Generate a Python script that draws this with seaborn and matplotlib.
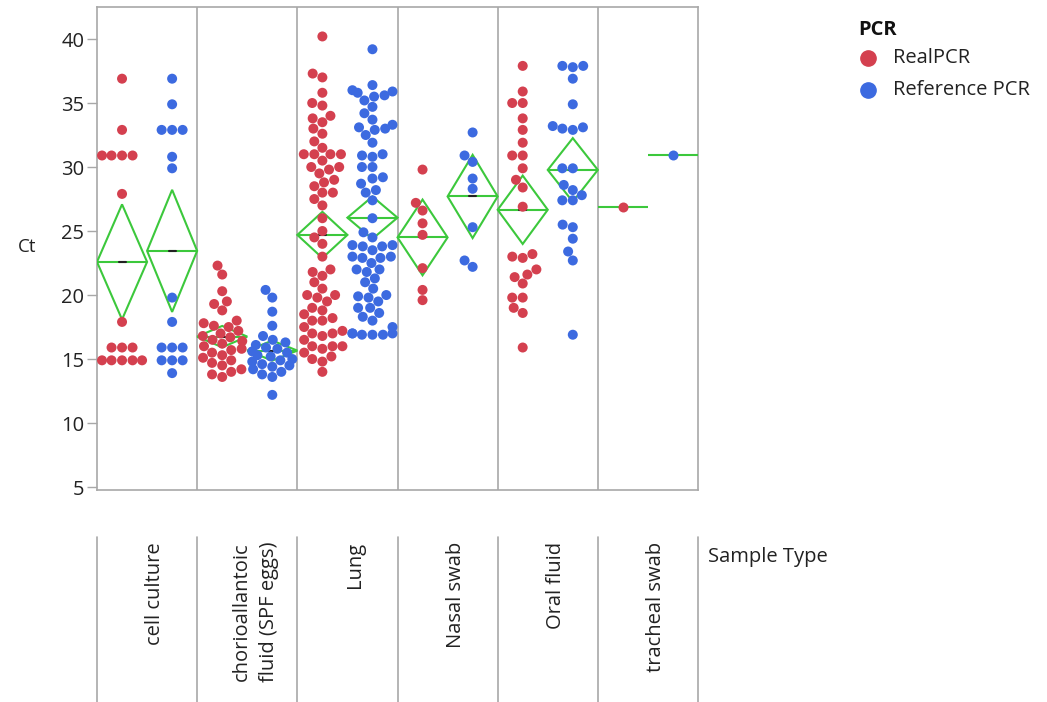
import numpy as np
import pandas as pd
import matplotlib
matplotlib.use("Agg")
import matplotlib.pyplot as plt
import seaborn as sns
from matplotlib.lines import Line2D
from matplotlib.patches import Polygon

# ---- data -------------------------------------------------------------
sample_types = ["cell culture", "chorioallantoic\nfluid (SPF eggs)", "Lung",
                "Nasal swab", "Oral fluid", "tracheal swab"]
pcr_levels = ["RealPCR", "Reference PCR"]

cell_real = [36.9, 32.9, 30.9, 30.9, 30.9, 30.9, 27.9, 17.9,
             15.9, 15.9, 15.9, 14.9, 14.9, 14.9, 14.9, 14.9]
cell_ref = [36.9, 34.9, 32.9, 32.9, 32.9, 30.8, 29.9, 19.8, 17.9,
            15.9, 15.9, 15.9, 14.9, 14.9, 14.9, 13.9]

chorio_real = [22.3, 21.6, 20.3, 19.5, 19.3, 18.8, 18.0, 17.8, 17.6, 17.5,
               17.2, 17.0, 16.8, 16.7, 16.5, 16.4, 16.2, 16.0, 15.8, 15.7,
               15.5, 15.3, 15.1, 14.9, 14.7, 14.5, 14.2, 14.0, 13.8, 13.6]
chorio_ref = [20.4, 19.8, 18.7, 17.6, 16.8, 16.5, 16.3, 16.1, 15.9, 15.8,
              15.6, 15.5, 15.3, 15.2, 15.0, 14.9, 14.8, 14.6, 14.5, 14.4,
              14.2, 14.0, 13.8, 13.6, 12.2]

lung_real = [40.2, 37.3, 37.0, 35.8, 35.0, 34.8, 34.0, 33.8, 33.5, 33.0,
             32.6, 32.0, 31.5, 31.0, 31.0, 31.0, 31.0, 30.5, 30.0, 30.0,
             29.8, 29.5, 29.0, 28.8, 28.5, 28.0, 28.0, 27.5, 27.0, 26.0,
             25.0, 24.5, 24.0, 23.0, 22.0, 21.8, 21.5, 21.0, 20.5, 20.0,
             20.0, 19.8, 19.5, 19.0, 18.8, 18.5, 18.2, 18.0, 18.0, 17.5,
             17.2, 17.0, 17.0, 16.8, 16.5, 16.0, 16.0, 16.0, 15.8, 15.5,
             15.2, 15.0, 14.8, 14.0]
lung_ref = [39.2, 36.4, 36.0, 35.9, 35.8, 35.6, 35.5, 35.2, 34.7, 34.2,
            33.7, 33.3, 33.1, 33.0, 32.9, 32.5, 31.9, 31.0, 30.9, 30.8,
            30.0, 30.0, 29.2, 29.1, 28.7, 28.2, 28.0, 27.4, 26.0, 24.9,
            24.5, 23.9, 23.9, 23.8, 23.8, 23.5, 23.0, 23.0, 22.9, 22.9,
            22.5, 22.0, 22.0, 21.8, 21.3, 21.0, 20.5, 20.0, 19.9, 19.8,
            19.5, 19.0, 19.0, 18.6, 18.3, 18.0, 17.5, 17.0, 17.0, 17.0,
            16.9, 16.9, 16.9]

nasal_real = [29.8, 27.2, 26.6, 25.6, 24.7, 22.1, 20.4, 19.6]
nasal_ref = [32.7, 30.9, 30.4, 29.1, 28.3, 25.3, 22.7, 22.2]

oral_real = [37.9, 35.9, 35.0, 35.0, 33.8, 32.9, 31.9, 30.9, 30.9, 29.9,
             29.0, 28.4, 26.9, 23.2, 23.0, 22.9, 22.0, 21.6, 21.4, 20.9,
             19.8, 19.8, 19.0, 18.6, 15.9]
oral_ref = [37.9, 37.9, 37.8, 36.9, 34.9, 33.2, 33.1, 33.0, 32.9, 29.9,
            29.9, 28.6, 28.2, 27.8, 27.4, 27.4, 25.5, 25.3, 24.4, 23.4,
            22.7, 16.9]

tracheal_real = [26.9]
tracheal_ref = [30.9]

values = [(cell_real, cell_ref), (chorio_real, chorio_ref), (lung_real, lung_ref),
          (nasal_real, nasal_ref), (oral_real, oral_ref), (tracheal_real, tracheal_ref)]

# ---- long-form table ---------------------------------------------------
rows = []
group_order = []
for si, (stype, pair) in enumerate(zip(sample_types, values)):
    for pcr, vals in zip(pcr_levels, pair):
        gname = f"{si}|{pcr}"
        group_order.append(gname)
        for v in vals:
            rows.append({"Sample Type": stype, "PCR": pcr, "Group": gname, "Ct": v})
df = pd.DataFrame(rows)

# ---- styling -------------------------------------------------------------
sns.set_style("white")
plt.rcParams["font.family"] = ["Open Sans", "DejaVu Sans"]

W, H = 1047, 702
fig = plt.figure(figsize=(W / 100, H / 100), dpi=100)

red = "#D4404F"
blue = "#3C6AE0"
green = "#3CC83C"
frame = "#A8A8A8"
text_col = "#222222"
fs = 14.5


def px_x(x):
    return x / W


def px_y(y):
    return 1 - y / H


ax = fig.add_axes([px_x(97), px_y(490), (698 - 97) / W, (490 - 7) / H])

sns.swarmplot(data=df, x="Group", y="Ct", hue="PCR", order=group_order,
              hue_order=pcr_levels, palette=[red, blue], size=7.2,
              linewidth=0, legend=False, ax=ax, zorder=4, warn_thresh=1)


def t_quantile(p, dof):
    # Cornish-Fisher expansion of Student t around the normal quantile
    from statistics import NormalDist
    z = NormalDist().inv_cdf(p)
    g1 = (z ** 3 + z) / 4
    g2 = (5 * z ** 5 + 16 * z ** 3 + 3 * z) / 96
    g3 = (3 * z ** 7 + 19 * z ** 5 + 17 * z ** 3 - 15 * z) / 384
    return z + g1 / dof + g2 / dof ** 2 + g3 / dof ** 3


# means diamonds: mean line with a 95% confidence interval
for gi, gname in enumerate(group_order):
    vals = np.asarray(df.loc[df["Group"] == gname, "Ct"], dtype=float)
    m = vals.mean()
    ax.plot([gi - 0.5, gi + 0.5], [m, m], color=green, lw=1.5, zorder=3,
            solid_capstyle="butt")
    if len(vals) > 1:
        half = t_quantile(0.975, len(vals) - 1) * vals.std(ddof=1) / np.sqrt(len(vals))
        diamond = Polygon([[gi - 0.5, m], [gi, m + half], [gi + 0.5, m], [gi, m - half]],
                          closed=True, fill=False, edgecolor=green, lw=1.5, zorder=3)
        ax.add_patch(diamond)
        ax.plot([gi - 0.07, gi + 0.07], [m, m], color="#222222", lw=1.5, zorder=3.5)

ax.set_xlim(-0.5, len(group_order) - 0.5)
ax.set_ylim(4.77, 42.5)
ax.set_yticks([5, 10, 15, 20, 25, 30, 35, 40])
ax.set_xticks([])
ax.set_xlabel("")
ax.set_ylabel("")
for b in np.arange(1.5, len(group_order) - 1, 2):
    ax.axvline(b, color=frame, lw=1.2, zorder=1)
for sp in ax.spines.values():
    sp.set_visible(True)
    sp.set_color(frame)
    sp.set_linewidth(1.2)
ax.tick_params(axis="y", length=7, width=1, color=frame, pad=2,
               labelsize=fs, labelcolor=text_col, left=True)

fig.text(px_x(27), px_y(247), "Ct", ha="center", va="center", fontsize=fs - 1,
         color=text_col)

# ---- sample type header strip below the plot ------------------------------
ax2 = fig.add_axes([px_x(97), 0, (698 - 97) / W, (H - 537) / H])
ax2.set_xlim(0, len(sample_types))
ax2.set_ylim(0, 1)
ax2.axis("off")
for i in range(len(sample_types) + 1):
    ax2.plot([i, i], [0, 1], color=frame, lw=1.2, clip_on=False)
for i, stype in enumerate(sample_types):
    ax2.text(i + 0.58, 0.97, stype, rotation=90, ha="center", va="top",
             multialignment="right", linespacing=1.45, fontsize=fs, color=text_col)
fig.text(px_x(708), px_y(557), "Sample Type", ha="left", va="center",
         fontsize=fs, color=text_col)

# ---- legend ----------------------------------------------------------------
fig.text(px_x(858), px_y(30), "PCR", ha="left", va="center", fontsize=fs,
         fontweight="bold", color="#111111")
for yy, lab, col in [(58, pcr_levels[0], red), (90, pcr_levels[1], blue)]:
    fig.add_artist(Line2D([px_x(868)], [px_y(yy)], marker="o", markersize=11,
                          color=col, linestyle="none", transform=fig.transFigure))
    fig.text(px_x(893), px_y(yy), lab, ha="left", va="center", fontsize=fs,
             color=text_col)

fig.savefig("out.png", dpi=100)
